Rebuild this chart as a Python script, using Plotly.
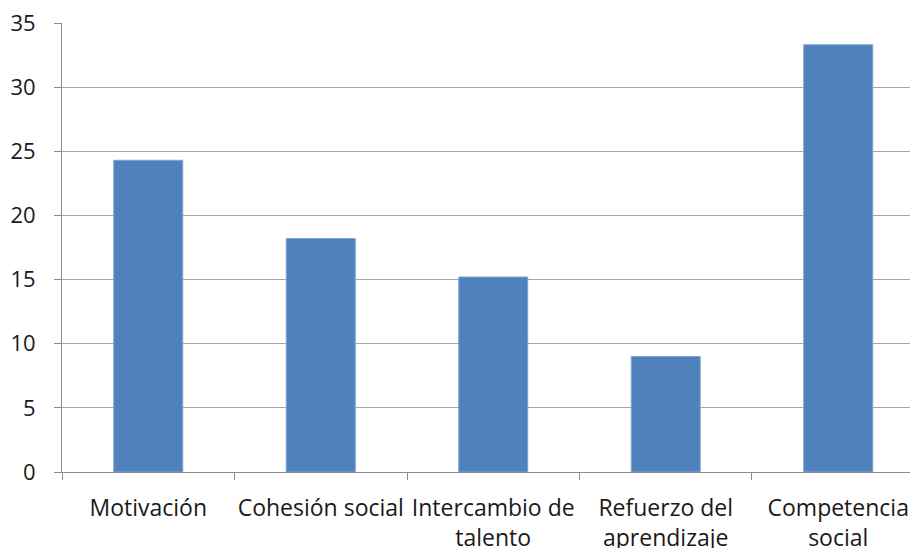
import plotly.graph_objects as go

categories = ["Motivación", "Cohesión social", "Intercambio de<br>talento",
              "Refuerzo del<br>aprendizaje", "Competencia<br>social"]
values = [24.3, 18.2, 15.2, 9.0, 33.3]
y_ticks = [0, 5, 10, 15, 20, 25, 30, 35]

font_family = "'Open Sans', sans-serif"
text_color = "#1a1a1a"

fig = go.Figure(go.Bar(
    x=categories,
    y=values,
    width=0.4,
    marker=dict(color="#4F81BD", line=dict(color="#7EA3D1", width=1)),
))

fig.update_layout(
    width=910,
    height=548,
    margin=dict(l=62, r=0, t=23, b=76, autoexpand=False),
    paper_bgcolor="white",
    plot_bgcolor="white",
    showlegend=False,
    font=dict(family=font_family, size=23, color=text_color),
    bargap=0.6,
)

fig.update_yaxes(
    range=[0, 35],
    tickvals=y_ticks,
    showgrid=True,
    gridcolor="#A6A6A6",
    gridwidth=1,
    showline=True,
    linecolor="#8C8C8C",
    linewidth=1,
    ticks="outside",
    ticklen=7,
    tickcolor="#8C8C8C",
    ticklabelstandoff=14,
    zeroline=False,
    automargin=False,
    tickfont=dict(size=22, family=font_family, color=text_color),
)

fig.update_xaxes(
    range=[-0.5, 4.416],
    showline=True,
    linecolor="#8C8C8C",
    linewidth=1,
    ticks="outside",
    tickson="boundaries",
    ticklen=7,
    tickcolor="#8C8C8C",
    ticklabelstandoff=15,
    showgrid=False,
    tickangle=0,
    automargin=False,
    tickfont=dict(size=23, family=font_family, color=text_color),
)

fig.write_html("out.html")
